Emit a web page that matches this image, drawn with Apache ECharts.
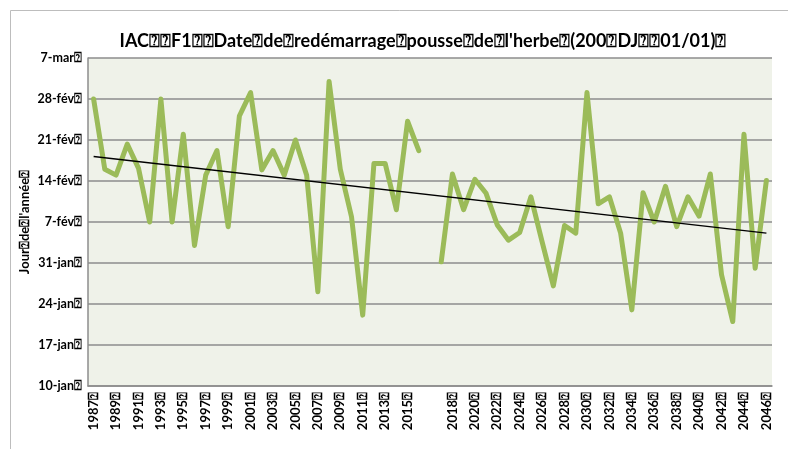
<!DOCTYPE html>
<html>
<head>
<meta charset="utf-8" />
<title>IAC F1</title>
<script src="https://cdn.jsdelivr.net/npm/echarts@6/dist/echarts.min.js"></script>
<style>
  html, body { margin: 0; padding: 0; background: #fff; }
  #main { width: 788px; height: 449px; }
</style>
</head>
<body>
<div id="main"></div>
<script>
// years, with an empty slot between 2016 and 2017 (as in the original sheet)
var years1 = [1987, 1988, 1989, 1990, 1991, 1992, 1993, 1994, 1995, 1996, 1997, 1998, 1999, 2000, 2001,
              2002, 2003, 2004, 2005, 2006, 2007, 2008, 2009, 2010, 2011, 2012, 2013, 2014, 2015, 2016];
var years2 = [2017, 2018, 2019, 2020, 2021, 2022, 2023, 2024, 2025, 2026, 2027, 2028, 2029, 2030, 2031,
              2032, 2033, 2034, 2035, 2036, 2037, 2038, 2039, 2040, 2041, 2042, 2043, 2044, 2045, 2046];

// day of year of the regrowth date
var days1 = [59, 47, 46, 51.3, 47.2, 38, 59, 38, 53, 34, 46, 50.2, 37.2, 56.1, 60.1,
             46.9, 50.2, 46, 52, 46, 26.1, 62, 47, 38.9, 22.1, 48, 48, 40.1, 55.2, 50.2];
var days2 = [31.2, 46.2, 40.1, 45.3, 42.9, 37.5, 34.9, 36.2, 42.3, 34.6, 27.1, 37.4, 36.1, 60.1, 41.1,
             42.3, 36.1, 23, 43, 38, 44.1, 37.2, 42.3, 39, 46.2, 29, 21, 53, 30.1, 45.1];

// linear trend, read at both ends
var trendYears = ['1987', '2046'];
var trendDays = [49.2, 36.1];

// y tick labels (10-jan = day 10, weekly steps)
var yTicks = ['10-jan⍰', '17-jan⍰', '24-jan⍰', '31-jan⍰', '7-fév⍰', '14-fév⍰', '21-fév⍰', '28-fév⍰', '7-mar⍰'];

var cats = years1.map(String).concat(['']).concat(years2.map(String));
var values = days1.concat([null]).concat(days2);

var font = 'Lato, "Open Sans", "DejaVu Sans", sans-serif';
var myChart = echarts.init(document.getElementById('main'));
var option = {
  backgroundColor: '#ffffff',
  animation: false,
  title: {
    text: "IAC⍰⍰F1⍰⍰Date⍰de⍰redémarrage⍰pousse⍰de⍰l'herbe⍰(200⍰DJ⍰⍰01/01)⍰",
    left: 418,
    textAlign: 'center',
    top: 27,
    textStyle: { fontFamily: font, fontSize: 18, fontWeight: 'bold', color: '#000' }
  },
  graphic: [{
    type: 'rect',
    shape: { x: 10.5, y: 10.5, width: 800, height: 460 },
    style: { fill: 'none', stroke: '#bdbdbd', lineWidth: 1 },
    silent: true
  }],
  grid: {
    left: 88, right: 16, top: 58, bottom: 63,
    show: true, backgroundColor: '#eff2e9', borderWidth: 0
  },
  xAxis: {
    type: 'category',
    data: cats,
    boundaryGap: true,
    axisLine: { lineStyle: { color: '#8c8c8c', width: 1.5 } },
    axisTick: { show: false },
    axisLabel: {
      interval: 1,
      rotate: 90,
      margin: 6,
      fontFamily: font, fontSize: 13, fontWeight: 'bold', color: '#000',
      formatter: function (v) { return v ? v + '⍰' : ''; }
    },
    splitLine: { show: false }
  },
  yAxis: {
    type: 'value',
    min: 10, max: 66, interval: 7,
    name: "Jour⍰de⍰l'année⍰",
    nameLocation: 'middle',
    nameGap: 57,
    nameMoveOverlap: false,
    nameTextStyle: { fontFamily: font, fontSize: 13, fontWeight: 'bold', color: '#000' },
    axisLine: { show: true, lineStyle: { color: '#8c8c8c', width: 1.5 } },
    axisTick: { show: false },
    axisLabel: {
      margin: 6,
      fontFamily: font, fontSize: 12.5, fontWeight: 'bold', color: '#000',
      formatter: function (v) { return yTicks[Math.round((v - 10) / 7)]; }
    },
    splitLine: { show: true, lineStyle: { color: '#8c8c8c', width: 1.5 } }
  },
  series: [{
    name: 'Date',
    type: 'line',
    data: values,
    connectNulls: false,
    symbol: 'none',
    lineStyle: { color: '#9bbb59', width: 5, join: 'round', cap: 'round' },
    markLine: {
      silent: true,
      symbol: 'none',
      z: 5,
      label: { show: false },
      lineStyle: { color: '#000', width: 1.5, type: 'solid' },
      data: [[
        { coord: [trendYears[0], trendDays[0]] },
        { coord: [trendYears[1], trendDays[1]] }
      ]]
    }
  }]
};
myChart.setOption(option);
</script>
</body>
</html>
